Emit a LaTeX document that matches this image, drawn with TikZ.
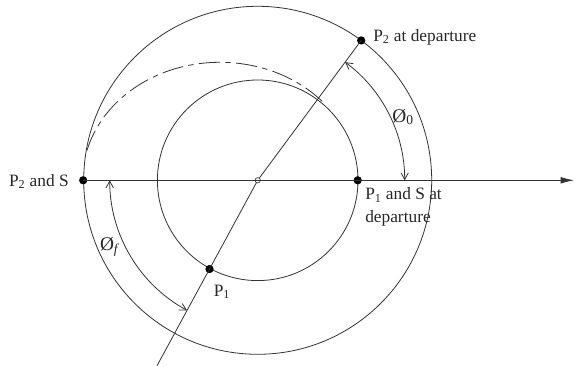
\documentclass[tikz,border=0pt]{standalone}
\usepackage{fontspec}
\setmainfont{Liberation Serif}
\usetikzlibrary{arrows.meta,calc}
\begin{document}
\begin{tikzpicture}[x=0.75pt,y=0.75pt,
  ln/.style={draw=black!80,line width=0.6pt},
  dot/.style={circle,fill=black,inner sep=0pt,minimum size=6.2pt},
  lbl/.style={text=black!85,font=\fontsize{13}{17}\selectfont,inner sep=0pt},
  angarrow/.style={ln,{Straight Barb[length=5pt,width=5.5pt]}-{Straight Barb[length=5pt,width=5.5pt]}}]
\useasboundingbox (0,0) rectangle (575,367);
\coordinate (C) at (257.7,186.7);
\coordinate (E) at (220,186.7);
% circles
\draw[ln] (C) circle[radius=174];
\draw[ln] (C) circle[radius=100.3];
% transfer orbit (dashed)
\draw[ln,dash pattern=on 16pt off 4pt on 4pt off 4pt]
  ($(E)+(42:137.5 and 118)$) arc[start angle=42,end angle=168,x radius=137.5,y radius=118];
% nodes
\node[dot] (p2s) at ($(C)+(180:174.5)$) {};
\node[dot] (p1s) at ($(C)+(0:100)$) {};
\node[dot] (p2d) at ($(C)+(53.5:174)$) {};
\node[dot] (p1)  at ($(C)+(241.5:101)$) {};
\node[circle,draw=black!80,fill=white,line width=0.5pt,inner sep=0pt,minimum size=4pt] (c) at (C) {};
\coordinate (axend) at (574,186.7);
\coordinate (lnend) at ($(C)+(241.5:211)$);
% axis
\draw[ln,-{Latex[length=10pt,width=5pt]}] (p2s.center) -- (axend);
% radial line
\draw[ln] (p2d.center) -- (c) -- (p1.center) -- (lnend);
% angle arcs
\draw[angarrow] ($(C)+(53.5:147)$) arc[start angle=53.5,end angle=0,radius=147];
\draw[angarrow] ($(C)+(180:148)$) arc[start angle=180,end angle=241.5,radius=148];
% labels
\node[lbl,anchor=west] (t2d) at (373,330) {P\textsubscript{2} at departure};
\node[lbl,anchor=east] (t2s) at (69,185.3) {P\textsubscript{2} and S};
\node[lbl,anchor=north west,align=left] (t1s) at (365,179.5) {P\textsubscript{1} and S at\\departure};
\node[lbl] (t1) at (222,75.3) {P\textsubscript{1}};
\node[lbl,font=\fontsize{14.5}{17}\selectfont] (phi0) at (403,250) {Ø\textsubscript{0}};
\node[lbl,font=\fontsize{14.5}{17}\selectfont] (phif) at (110,120) {Ø\textsubscript{\textit{f}}};
\end{tikzpicture}
\end{document}
